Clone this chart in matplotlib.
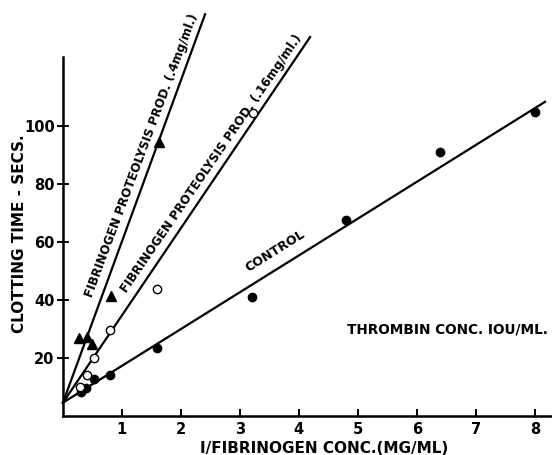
"""Clotting time vs 1/fibrinogen concentration, with fibrinogen proteolysis products."""

import matplotlib

matplotlib.use("Agg")
import matplotlib.pyplot as plt
import numpy as np

# control (filled circles)
ctrl_x = [0.31, 0.39, 0.53, 0.8, 1.6, 3.2, 4.8, 6.4, 8.0]
ctrl_y = [8.3, 9.6, 12.8, 14.1, 23.4, 41.0, 67.6, 91.0, 104.8]

# proteolysis products .16 mg/ml (open circles)
p16_x = [0.29, 0.41, 0.53, 0.8, 1.6, 3.22]
p16_y = [10.0, 14.1, 20.0, 29.6, 43.8, 104.5]

# proteolysis products .4 mg/ml (triangles)
p4_x = [0.27, 0.41, 0.5, 0.81, 1.63]
p4_y = [26.9, 27.2, 24.8, 41.4, 94.5]

# fitted lines: common intercept, slope, right end of each line
intercept = 4.6
slopes = [12.7, 30.1, 55.6]
line_ends = [8.17, 4.19, 2.41]

FONT = dict(family="DejaVu Sans", fontweight="bold")


def main() -> None:
    fig = plt.figure(figsize=(5.52, 4.55), dpi=100)
    ax = fig.add_axes([0.114, 0.0857, 0.886, 0.892])

    for s, xe in zip(slopes, line_ends):
        xs = np.array([0.0, xe])
        ax.plot(xs, intercept + s * xs, color="black", lw=1.6, clip_on=False)

    ax.plot(ctrl_x, ctrl_y, "o", color="black", ms=6, clip_on=False)
    ax.plot(p16_x, p16_y, "o", mfc="white", mec="black", mew=1.0, ms=6, clip_on=False)
    ax.plot(p4_x, p4_y, "^", color="black", ms=7.5, clip_on=False)

    ax.set_xlim(0, 8.29)
    ax.set_ylim(0, 140)
    ax.spines["top"].set_visible(False)
    ax.spines["right"].set_visible(False)
    ax.spines["left"].set_bounds(0, 124)
    ax.spines["left"].set_linewidth(1.8)
    ax.spines["bottom"].set_linewidth(1.8)

    ax.set_xticks(range(1, 9))
    ax.set_yticks([20, 40, 60, 80, 100])
    ax.tick_params(axis="x", direction="in", length=5, width=1.4, pad=4)
    ax.tick_params(axis="y", direction="inout", length=8, width=1.4, pad=2)
    for lab in ax.get_xticklabels() + ax.get_yticklabels():
        lab.set_fontsize(10.5)
        lab.set_fontweight("bold")

    ax.set_xlabel("I/FIBRINOGEN CONC.(MG/ML)", fontsize=11, va="center", **FONT)
    ax.xaxis.set_label_coords(0.534, -0.079)
    ax.set_ylabel("CLOTTING TIME - SECS.", fontsize=11, va="center", **FONT)
    ax.yaxis.set_label_coords(-0.088, 0.448)

    ax.text(4.81, 29.7, "THROMBIN CONC. IOU/ML.", fontsize=9.8, ha="left", va="center", **FONT)
    ax.text(3.59, 56.9, "CONTROL", fontsize=9.1, rotation=32, ha="center", va="center",
            rotation_mode="anchor", **FONT)
    ax.text(1.34, 89.7, "FIBRINOGEN PROTEOLYSIS PROD. (.4mg/ml.)", fontsize=8.65,
            rotation=69.5, ha="center", va="center", rotation_mode="anchor", **FONT)
    ax.text(2.51, 87.2, "FIBRINOGEN PROTEOLYSIS PROD. (.16mg/ml.)", fontsize=8.65,
            rotation=55.5, ha="center", va="center", rotation_mode="anchor", **FONT)

    fig.savefig("out.png", dpi=100)
    plt.close(fig)


if __name__ == "__main__":
    main()
